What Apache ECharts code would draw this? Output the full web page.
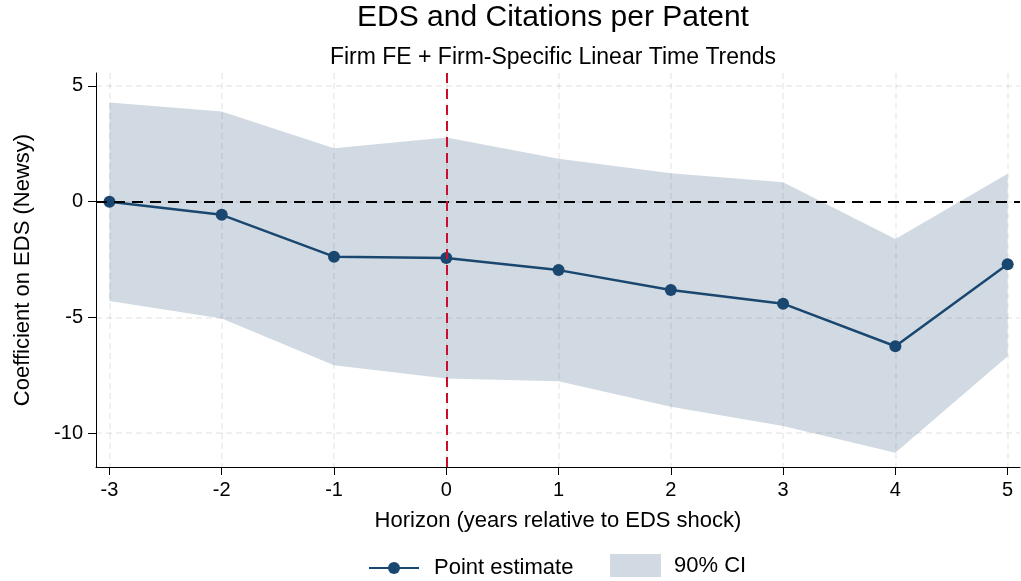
<!DOCTYPE html>
<html>
<head>
<meta charset="utf-8">
<script src="https://cdn.jsdelivr.net/npm/echarts@6/dist/echarts.min.js"></script>
<style>html,body{margin:0;padding:0;background:#fff}#c{width:1021px;height:581px}</style>
</head>
<body>
<div id="c"></div>
<script>
const horizons = [-3, -2, -1, 0, 1, 2, 3, 4, 5];
const pointEstimate = [0, -0.57, -2.38, -2.44, -2.96, -3.82, -4.41, -6.25, -2.71];
const ciUpper = [4.29, 3.90, 2.31, 2.77, 1.85, 1.23, 0.84, -1.61, 1.20];
const ciLower = [-4.29, -5.05, -7.07, -7.65, -7.76, -8.87, -9.70, -10.85, -6.68];
const xTicks = [-3, -2, -1, 0, 1, 2, 3, 4, 5];
const yTicks = [-10, -5, 0, 5];

const FONT = 'Liberation Sans, Arial, Helvetica, sans-serif';
const navy = '#1a476f';
const band = '#d1dae2';

const chart = echarts.init(document.getElementById('c'));
const grid = { left: 96, right: 1, top: 73, bottom: 114 };

const bandData = horizons.map((h, i) => [h, ciLower[i], ciUpper[i]]);

chart.setOption({
  animation: false,
  backgroundColor: '#fff',
  graphic: [
    { type: 'text', x: 553, y: 18, style: { text: 'EDS and Citations per Patent', font: '30px ' + FONT, fill: '#000', textAlign: 'center', textVerticalAlign: 'middle' } },
    { type: 'text', x: 553, y: 58, style: { text: 'Firm FE + Firm-Specific Linear Time Trends', font: '23px ' + FONT, fill: '#000', textAlign: 'center', textVerticalAlign: 'middle' } }
  ],
  grid: grid,
  xAxis: {
    type: 'value', min: -3.12, max: 5.11,
    name: 'Horizon (years relative to EDS shock)', nameLocation: 'middle', nameGap: 43,
    nameTextStyle: { fontSize: 22, color: '#000', fontFamily: FONT },
    axisLine: { show: true, onZero: false, lineStyle: { color: '#000', width: 1 } },
    axisTick: { show: true, length: 8, customValues: xTicks, lineStyle: { color: '#000' } },
    axisLabel: { customValues: xTicks, margin: 13, fontSize: 20, color: '#000', fontFamily: FONT },
    splitLine: { show: true, lineStyle: { color: 'rgba(0,0,0,0.08)', width: 1.5, type: [6, 4] } }
  },
  yAxis: {
    type: 'value', min: -11.47, max: 5.56,
    name: 'Coefficient on EDS (Newsy)', nameLocation: 'middle', nameGap: 62, nameRotate: 90,
    nameTextStyle: { fontSize: 22, color: '#000', fontFamily: FONT },
    axisLine: { show: true, onZero: false, lineStyle: { color: '#000', width: 1 } },
    axisTick: { show: true, length: 8, customValues: yTicks, lineStyle: { color: '#000' } },
    axisLabel: { customValues: yTicks, margin: 13, fontSize: 20, color: '#000', fontFamily: FONT },
    splitLine: { show: true, lineStyle: { color: 'rgba(0,0,0,0.08)', width: 1.5, type: [6, 4] } }
  },
  legend: [
    { data: ['Point estimate'], left: 368, top: 557, padding: 0, itemWidth: 50, itemHeight: 15,
      textStyle: { fontSize: 22, color: '#000', fontFamily: FONT, padding: [0, 0, 0, 10] } },
    { data: [{ name: '90% CI', icon: 'rect', itemStyle: { color: band, borderWidth: 0 } }], left: 610, top: 554, padding: 0,
      itemWidth: 51, itemHeight: 23,
      textStyle: { fontSize: 22, color: '#000', fontFamily: FONT, padding: [0, 0, 0, 8] } }
  ],
  series: [
    {
      name: '90% CI', type: 'custom', silent: true, z: 1,
      data: bandData,
      encode: { x: 0, y: [1, 2] },
      itemStyle: { color: band },
      renderItem: function (params, api) {
        if (params.dataIndex !== 0) return null;
        const upper = bandData.map(d => api.coord([d[0], d[2]]));
        const lower = bandData.map(d => api.coord([d[0], d[1]])).reverse();
        return {
          type: 'polygon',
          shape: { points: upper.concat(lower) },
          style: { fill: 'rgba(26,71,111,0.2)' }
        };
      }
    },
    {
      type: 'line', silent: true, data: [], z: 2,
      markLine: {
        silent: true, symbol: 'none', label: { show: false }, animation: false,
        data: [
          { yAxis: 0, lineStyle: { color: '#000', width: 2, type: [11, 7] } },
          { xAxis: 0, lineStyle: { color: '#c8102e', width: 2, type: [10, 6] } }
        ]
      }
    },
    {
      name: 'Point estimate', type: 'line', z: 3,
      data: horizons.map((h, i) => [h, pointEstimate[i]]),
      symbol: 'circle', symbolSize: 12, showSymbol: true,
      lineStyle: { color: navy, width: 2.5 }, itemStyle: { color: navy, borderWidth: 0 }
    }
  ]
});
</script>
</body>
</html>
